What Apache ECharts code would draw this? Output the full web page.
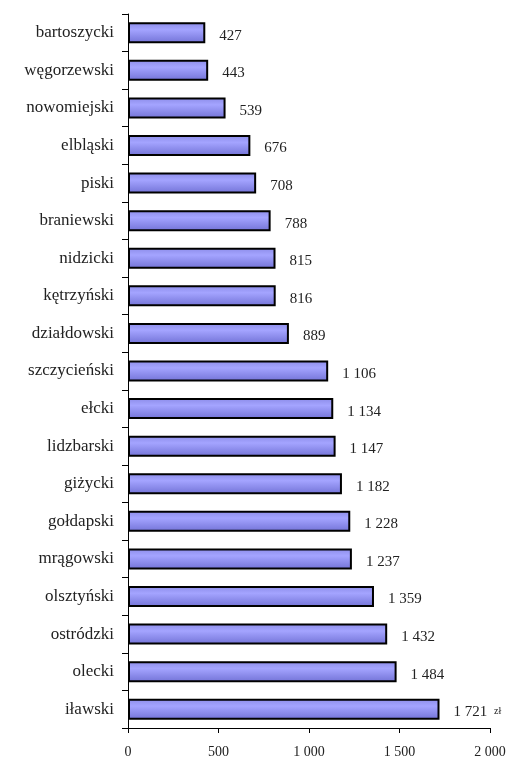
<!DOCTYPE html>
<html>
<head>
<meta charset="utf-8">
<script src="https://cdn.jsdelivr.net/npm/echarts@6/dist/echarts.min.js"></script>
<style>
  html, body { margin: 0; padding: 0; background: #fff; }
  #box { width: 512px; height: 760px; }
</style>
</head>
<body>
<div id="box"></div>
<script>
// powiaty od góry do dołu
var powiaty = ['bartoszycki', 'węgorzewski', 'nowomiejski', 'elbląski', 'piski',
  'braniewski', 'nidzicki', 'kętrzyński', 'działdowski', 'szczycieński', 'ełcki',
  'lidzbarski', 'giżycki', 'gołdapski', 'mrągowski', 'olsztyński', 'ostródzki',
  'olecki', 'iławski'];
var wartosci = [427, 443, 539, 676, 708, 788, 815, 816, 889, 1106, 1134, 1147,
  1182, 1228, 1237, 1359, 1432, 1484, 1721];
var xTicks = [0, 500, 1000, 1500, 2000];

function fmt(v) {
  var s = String(Math.round(v));
  return s.replace(/\B(?=(\d{3})+(?!\d))/g, ' ');
}

var chart = echarts.init(document.getElementById('box'));
var serif = '"Liberation Serif", "DejaVu Serif", serif';

var option = {
  animation: false,
  grid: { left: 128, right: 22, top: 14, bottom: 32 },
  xAxis: {
    type: 'value',
    min: xTicks[0],
    max: xTicks[xTicks.length - 1],
    interval: 500,
    splitLine: { show: false },
    axisLine: { show: true, lineStyle: { color: '#000', width: 1 } },
    axisTick: { show: true, length: 5, lineStyle: { color: '#000' } },
    axisLabel: {
      color: '#222', fontFamily: serif, fontSize: 14, margin: 17,
      formatter: function (v) { return fmt(v); }
    }
  },
  yAxis: {
    type: 'category',
    inverse: true,
    data: powiaty,
    axisLine: { show: true, lineStyle: { color: '#000', width: 1 } },
    axisTick: { show: true, length: 6, lineStyle: { color: '#000' } },
    axisLabel: { color: '#222', fontFamily: serif, fontSize: 17, margin: 14 }
  },
  series: [{
    type: 'bar',
    data: wartosci,
    barWidth: 21,
    itemStyle: {
      color: new echarts.graphic.LinearGradient(0, 0, 0, 1, [
        { offset: 0, color: '#8c8ce8' },
        { offset: 0.35, color: '#a4a4ff' },
        { offset: 1, color: '#7272d6' }
      ]),
      borderColor: '#000',
      borderWidth: 2
    },
    label: {
      show: true,
      position: 'right',
      distance: 14,
      offset: [0, 3],
      color: '#222',
      fontFamily: serif,
      fontSize: 15,
      formatter: function (p) { return fmt(p.value); }
    }
  }],
  graphic: [{
    type: 'text',
    left: 494,
    top: 706,
    style: { text: 'zł', fill: '#222', font: '10px ' + serif }
  }]
};
chart.setOption(option);
</script>
</body>
</html>
